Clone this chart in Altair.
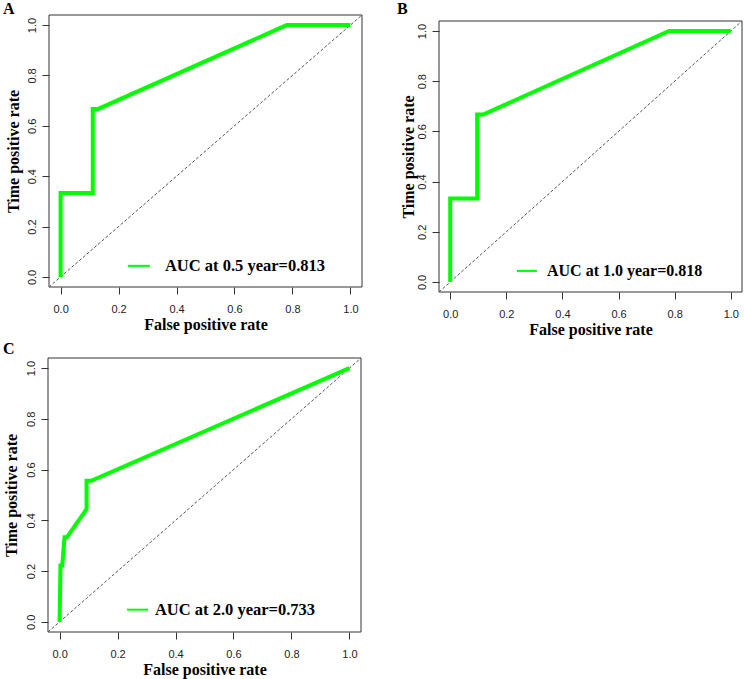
import altair as alt
import pandas as pd

W, H = 744, 679
DOM = [-0.04, 1.04]
TICKS = [0.0, 0.2, 0.4, 0.6, 0.8, 1.0]

panel_labels = ["A", "B", "C"]
auc_labels = ["AUC at 0.5 year=0.813", "AUC at 1.0 year=0.818", "AUC at 2.0 year=0.733"]

fpr_a = [0.0, 0.0, 0.111, 0.111, 0.13, 0.78, 1.0]
tpr_a = [0.0, 0.333, 0.333, 0.667, 0.667, 1.0, 1.0]

fpr_b = [0.0, 0.0, 0.096, 0.096, 0.117, 0.78, 1.0]
tpr_b = [0.0, 0.333, 0.333, 0.667, 0.667, 1.0, 1.0]

fpr_c = [0.0, 0.003, 0.009, 0.017, 0.025, 0.093, 0.093, 0.109, 1.0]
tpr_c = [0.0, 0.222, 0.222, 0.333, 0.333, 0.444, 0.556, 0.556, 1.0]

GREEN = "#00FF00"
SERIF = "Liberation Serif"
SANS = "Liberation Sans"


def panel(fpr, tpr, letter, auc, xr, yr, letter_xy, leg_x, leg_y, text_x, leg_fs, ytp):
    xs = alt.Scale(domain=DOM, range=xr, nice=False, zero=False)
    ys = alt.Scale(domain=DOM, range=yr, nice=False, zero=False)
    common = dict(values=TICKS, format=".1f", domain=False, grid=False,
                  tickSize=7, tickColor="#333", labelColor="#222",
                  labelFont=SANS, labelFontSize=11, titleFont=SERIF,
                  titleFontSize=16, titleFontWeight="bold", titleColor="#000")
    xaxis = alt.Axis(orient="bottom", offset=yr[0] - H, title="False positive rate",
                     labelPadding=9, titlePadding=2, **common)
    yaxis = alt.Axis(orient="left", offset=-xr[0], title="Time positive rate",
                     labelAngle=270, labelAlign="center", labelBaseline="bottom",
                     labelPadding=5, titlePadding=ytp, **common)

    df = pd.DataFrame({"fpr": fpr, "tpr": tpr, "i": list(range(len(fpr)))})
    one = pd.DataFrame({"t": [auc]})

    box = alt.Chart(one).mark_rect(fill=None, stroke="#333", strokeWidth=1).encode(
        x=alt.X(datum=DOM[0], type="quantitative", scale=xs, axis=None),
        x2=alt.X2(datum=DOM[1]),
        y=alt.Y(datum=DOM[0], type="quantitative", scale=ys, axis=None),
        y2=alt.Y2(datum=DOM[1]),
    )
    diag = alt.Chart(pd.DataFrame({"d": DOM})).mark_line(
        color="#555", strokeWidth=1, strokeDash=[3, 2]).encode(
        x=alt.X("d:Q", scale=xs, axis=None),
        y=alt.Y("d:Q", scale=ys, axis=None),
    )
    curve = alt.Chart(df).mark_line(color=GREEN, strokeWidth=4, strokeJoin="miter",
                                    strokeCap="butt").encode(
        x=alt.X("fpr:Q", scale=xs, axis=xaxis),
        y=alt.Y("tpr:Q", scale=ys, axis=yaxis),
        order="i:Q",
    )
    leg_line = alt.Chart(one).mark_rule(color=GREEN, strokeWidth=2).encode(
        x=alt.X(datum=leg_x[0], type="quantitative", scale=xs, axis=None),
        x2=alt.X2(datum=leg_x[1]),
        y=alt.Y(datum=leg_y, type="quantitative", scale=ys, axis=None),
    )
    leg_text = alt.Chart(one).mark_text(font=SERIF, fontSize=leg_fs, fontWeight="bold",
                                        align="left", baseline="middle", color="#000").encode(
        x=alt.X(datum=text_x, type="quantitative", scale=xs, axis=None),
        y=alt.Y(datum=leg_y, type="quantitative", scale=ys, axis=None),
        text="t:N",
    )
    lab = alt.Chart(pd.DataFrame({"t": [letter]})).mark_text(
        font=SERIF, fontSize=16, fontWeight="bold", align="left",
        baseline="alphabetic", color="#000").encode(
        x=alt.value(letter_xy[0]), y=alt.value(letter_xy[1]), text="t:N")
    return [box, diag, curve, leg_line, leg_text, lab]


layers = []
layers += panel(fpr_a, tpr_a, panel_labels[0], auc_labels[0], [49, 362], [287, 15],
                (3, 14), (0.232, 0.308), 0.044, 0.36, 16.5, 5)
layers += panel(fpr_b, tpr_b, panel_labels[1], auc_labels[1], [439, 742], [292, 21],
                (397, 14), (0.238, 0.309), 0.044, 0.345, 16, 0)
layers += panel(fpr_c, tpr_c, panel_labels[2], auc_labels[2], [48, 361], [632, 358],
                (3, 354), (0.233, 0.305), 0.048, 0.329, 16.5, 6)

chart = alt.layer(*layers).resolve_scale(
    x="independent", y="independent").resolve_axis(
    x="independent", y="independent").properties(
    width=W, height=H, padding=0, background="white",
    autosize=alt.AutoSizeParams(type="none"),
).configure_view(stroke=None)

chart.save("out.html", embed_options={"renderer": "svg", "actions": False})
